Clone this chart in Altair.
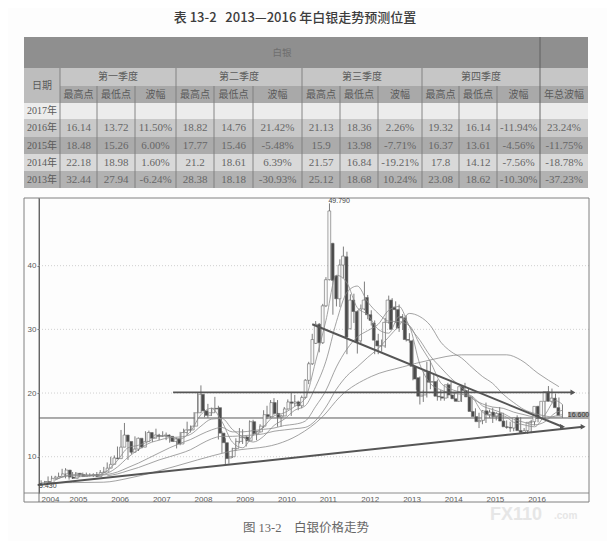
import altair as alt
import pandas as pd

# ---- table contents ----
title_text = "表 13-2\u00a0\u00a0\u00a02013—2016 年白银走势预测位置"
caption_text = "图 13-2\u00a0\u00a0\u00a0\u00a0白银价格走势"
col_units = [36, 37, 38, 41, 38, 39, 49, 38, 38, 44, 37, 38, 43, 48]
row_units = [31, 18, 17, 16, 18, 17, 17, 17]
row_fills = ["#8f8f8f", "#c6c6c6", "#a9a9a9", "#ececec", "#c9c9c9", "#ababab", "#d9d9d9", "#b2b2b2"]
seasons = ["第一季度", "第二季度", "第三季度", "第四季度"]
sub_heads = ["最高点", "最低点", "波幅"]
years_rows = ["2017年", "2016年", "2015年", "2014年", "2013年"]
t2016 = ["16.14", "13.72", "11.50%", "18.82", "14.76", "21.42%", "21.13", "18.36", "2.26%", "19.32", "16.14", "-11.94%", "23.24%"]
t2015 = ["18.48", "15.26", "6.00%", "17.77", "15.46", "-5.48%", "15.9", "13.98", "-7.71%", "16.37", "13.61", "-4.56%", "-11.75%"]
t2014 = ["22.18", "18.98", "1.60%", "21.2", "18.61", "6.39%", "21.57", "16.84", "-19.21%", "17.8", "14.12", "-7.56%", "-18.78%"]
t2013 = ["32.44", "27.94", "-6.24%", "28.38", "18.18", "-30.93%", "25.12", "18.68", "10.24%", "23.08", "18.62", "-10.30%", "-37.23%"]

# ---- monthly candles from May 2004 ----
opens = [6.0, 6.1, 5.9, 6.6, 6.8, 6.9, 7.3, 7.9,
         6.8, 6.6, 7.4, 7.2, 6.9, 7.1, 7.0, 7.2, 6.9, 7.5, 7.6, 8.2,
         8.8, 9.8, 9.7, 11.5, 13.4, 12.4, 10.7, 11.2, 12.9, 11.5, 12.4, 13.8,
         12.9, 13.4, 13.2, 13.3, 13.4, 13.2, 12.4, 12.8, 12.0, 13.8, 14.2, 14.2,
         14.8, 16.9, 19.8, 17.2, 16.5, 16.9, 17.6, 17.7, 13.7, 12.2, 9.8, 10.0,
         11.3, 12.4, 13.0, 13.1, 12.5, 15.5, 13.6, 13.9, 14.8, 16.6, 16.3, 18.5,
         16.8, 16.2, 16.4, 17.5, 18.6, 18.4, 18.6, 18.0, 19.3, 22.0, 24.6, 27.8,
         30.8, 27.9, 33.7, 37.8, 43.5, 38.4, 34.8, 40.1, 41.4, 30.1, 34.6, 32.8,
         28.2, 33.2, 35.0, 32.3, 31.0, 28.2, 27.4, 27.4, 31.1, 34.6, 33.5, 33.1,
         32.0, 31.8, 28.4, 28.2, 24.2, 22.4, 19.5, 19.7, 23.4, 21.7, 21.8, 19.5,
         19.4, 19.2, 21.3, 19.7, 19.1, 18.7, 21.0, 20.4, 19.4, 17.1, 16.3, 15.5,
         15.7, 17.2, 16.6, 17.0, 16.3, 16.8, 15.6, 14.7, 14.6, 14.5, 16.1, 14.1,
         13.8, 14.1, 15.4, 15.5, 17.9, 16.0, 18.7, 20.2, 18.7, 19.2, 17.7]
highs = [6.3, 6.2, 6.9, 7.0, 7.0, 7.5, 8.1, 8.2,
         7.0, 7.6, 7.6, 7.4, 7.5, 7.5, 7.4, 7.4, 7.6, 7.9, 8.4, 9.1,
         10.0, 10.2, 11.6, 14.2, 15.3, 12.9, 11.8, 13.2, 13.0, 12.7, 14.0, 14.1,
         13.6, 14.4, 13.6, 14.0, 13.8, 13.5, 13.2, 13.0, 13.9, 14.4, 15.5, 14.9,
         17.0, 20.0, 21.2, 17.5, 18.3, 17.7, 19.4, 18.0, 14.0, 12.9, 10.7, 11.4,
         12.9, 14.5, 14.3, 13.3, 15.7, 15.8, 14.0, 15.1, 17.3, 18.0, 18.9, 19.2,
         18.9, 16.6, 17.8, 19.0, 20.0, 19.7, 18.8, 19.6, 22.2, 24.9, 29.3, 31.3,
         31.0, 34.0, 38.2, 49.79, 43.6, 38.5, 41.0, 43.0, 42.2, 35.5, 35.6, 33.0,
         33.9, 37.5, 35.4, 33.0, 31.4, 29.3, 28.4, 31.8, 35.3, 34.9, 34.4, 33.9,
         32.4, 32.2, 29.4, 28.4, 24.2, 22.6, 20.5, 24.9, 25.1, 23.0, 22.1, 20.5,
         20.4, 21.6, 21.8, 20.1, 19.8, 21.2, 21.6, 20.7, 19.5, 17.6, 16.9, 17.3,
         18.5, 17.4, 17.7, 17.0, 17.8, 16.9, 15.7, 15.5, 15.3, 16.5, 16.2, 14.5,
         14.4, 15.8, 15.9, 18.0, 18.0, 18.9, 21.1, 20.7, 19.9, 19.3, 18.2]
lows = [5.43, 5.6, 5.8, 6.4, 6.6, 6.8, 7.2, 6.6,
        6.4, 6.5, 7.0, 6.8, 6.8, 6.9, 6.9, 6.8, 6.8, 7.3, 7.5, 8.1,
        8.7, 9.3, 9.6, 11.4, 11.5, 9.5, 10.4, 11.0, 10.9, 11.3, 12.2, 12.6,
        12.3, 13.2, 12.6, 13.1, 12.6, 12.2, 12.3, 11.3, 11.8, 13.6, 13.4, 13.8,
        14.7, 16.8, 16.9, 16.2, 16.1, 16.4, 16.9, 12.7, 10.6, 8.7, 8.9, 9.8,
        10.9, 12.1, 12.0, 11.6, 12.4, 13.3, 12.6, 13.8, 14.5, 15.9, 16.1, 16.6,
        14.7, 14.7, 16.4, 17.4, 16.4, 17.9, 17.3, 17.6, 19.1, 21.4, 24.4, 27.7,
        26.4, 27.7, 33.5, 37.7, 32.3, 33.6, 33.5, 38.0, 26.1, 30.0, 31.0, 26.2,
        27.8, 33.0, 31.6, 30.6, 26.1, 26.1, 26.5, 27.1, 30.9, 31.0, 31.0, 29.6,
        29.9, 28.1, 27.9, 22.0, 20.5, 18.2, 18.6, 19.3, 20.6, 20.9, 18.8, 18.8,
        18.8, 19.2, 19.5, 18.9, 18.6, 18.6, 20.2, 19.2, 17.0, 15.7, 14.5, 15.1,
        15.3, 16.1, 15.3, 15.7, 16.2, 15.5, 14.4, 13.9, 14.0, 14.3, 13.9, 13.6,
        13.6, 13.7, 14.9, 15.4, 15.8, 15.8, 18.7, 18.4, 18.5, 17.2, 16.1]
closes = [6.1, 5.9, 6.6, 6.8, 6.9, 7.3, 7.9, 6.8,
          6.6, 7.4, 7.2, 6.9, 7.1, 7.0, 7.2, 6.9, 7.5, 7.6, 8.2, 8.8,
          9.8, 9.7, 11.5, 13.4, 12.4, 10.7, 11.2, 12.9, 11.5, 12.4, 13.8, 12.9,
          13.4, 13.2, 13.3, 13.4, 13.2, 12.4, 12.8, 12.0, 13.8, 14.2, 14.2, 14.8,
          16.9, 19.8, 17.2, 16.5, 16.9, 17.6, 17.5, 13.7, 12.2, 9.7, 10.0, 11.3,
          12.4, 13.0, 13.1, 12.5, 15.5, 13.6, 13.9, 14.8, 16.6, 16.3, 18.5, 16.8,
          16.2, 16.4, 17.5, 18.6, 18.4, 18.6, 18.0, 19.3, 22.0, 24.6, 28.4, 30.8,
          27.9, 33.7, 37.8, 48.6, 37.7, 34.8, 40.1, 41.5, 28.8, 34.6, 32.8, 28.0,
          33.2, 34.6, 32.3, 31.4, 28.3, 27.4, 27.4, 31.1, 34.6, 30.0, 33.1, 30.2,
          31.8, 28.4, 28.3, 24.2, 22.2, 19.5, 19.7, 23.4, 21.7, 21.8, 19.5, 19.4,
          19.2, 21.3, 19.7, 19.1, 18.7, 21.0, 20.4, 19.4, 17.1, 16.3, 15.5, 15.7,
          17.2, 16.6, 17.0, 16.3, 16.8, 15.6, 14.7, 14.6, 14.5, 16.1, 14.1, 13.8,
          14.1, 15.4, 15.5, 17.9, 16.0, 18.7, 20.2, 18.7, 19.2, 17.7, 16.5]

# ---- moving averages, read at quarter ends ----
quarters = ["2004-09", "2004-12"] + [f"{y}-{m}" for y in range(2005, 2016) for m in ("03", "06", "09", "12")] + ["2016-03", "2016-06", "2016-09", "2016-11"]
ma5 = [6.3, 7.0,
       7.2, 7.1, 7.1, 7.8, 9.4, 11.4, 11.8, 12.4, 13.3, 13.1, 12.8, 14.0,
       16.6, 17.6, 15.5, 12.3, 11.4, 13.4, 14.7, 16.4, 16.9, 17.9, 19.2, 25.0,
       31.4, 38.5, 37.3, 33.4, 32.3, 30.0, 29.4, 32.0, 30.5, 24.5, 21.5, 20.5,
       20.0, 19.8, 19.3, 17.0, 16.4, 16.4, 15.4, 15.0, 14.7, 16.6, 18.8, 18.2]
ma10 = [6.4, 6.9,
        7.05, 7.1, 7.1, 7.4, 8.4, 9.9, 11.1, 12.1, 12.6, 13.0, 13.1, 13.5,
        14.8, 15.9, 16.0, 14.3, 13.1, 12.3, 13.2, 14.9, 15.9, 17.3, 18.0, 21.0,
        25.0, 31.2, 35.8, 36.8, 34.3, 32.5, 31.3, 31.2, 30.6, 27.6, 24.9, 21.6,
        20.6, 20.1, 19.5, 18.0, 17.4, 16.8, 15.9, 15.4, 15.0, 15.5, 16.9, 17.3]
ma20 = [6.8, 6.95, 7.05, 7.2, 7.6, 8.3, 9.0, 9.8, 10.6, 11.4, 12.1, 12.7,
        13.5, 14.2, 14.6, 13.9, 13.9, 14.1, 14.3, 14.5, 14.9, 15.1, 15.6, 17.9,
        20.4, 24.1, 26.9, 28.8, 29.8, 30.8, 33.0, 33.6, 30.5, 28.3, 25.8, 24.0,
        22.3, 20.9, 19.2, 18.3, 17.8, 17.6, 17.0, 16.6, 16.2, 16.0, 16.4, 16.6]
ma30 = [7.0, 7.3, 7.8, 8.3, 8.9, 9.5, 10.0, 10.5, 11.1,
        12.0, 12.8, 13.2, 13.2, 13.3, 13.4, 13.6, 14.0, 14.2, 14.4, 14.6, 15.7,
        17.8, 20.6, 22.7, 24.1, 25.6, 27.0, 28.8, 30.6, 32.5, 32.0, 30.6, 28.0,
        26.5, 25.5, 24.0, 22.6, 21.5, 19.8, 18.5, 17.4, 16.8, 16.4, 16.2, 16.3]
long_dates = ["2004-05", "2005-11", "2006-06", "2007-01", "2008-02", "2008-11", "2010-01", "2010-07", "2011-02", "2011-07",
              "2012-04", "2013-01", "2013-09", "2014-06", "2015-07", "2015-11", "2016-04", "2016-10"]
ma60 = [5.9, 6.0, 6.6, 7.5, 9.5, 10.8, 12.0, 13.4, 16.3, 19.4, 22.6, 24.1, 25.2, 26.0, 26.0, 25.2, 23.1, 21.0]

# ---- drawn lines and labels ----
support_dates = ["2004-04", "2017-05"]
support_vals = [5.55, 14.7]
fall_dates = ["2010-11", "2016-11"]
fall_vals = [30.8, 14.7]
level20_dates = ["2007-07", "2017-02"]
level20_vals = [20.1, 20.1]
level16_val = [16.08]
y_ticks = [10, 20, 30, 40]
grid_vals = [10, 20, 30, 40]
year_ticks = [(2004, 5)] + [(y, 1) for y in range(2005, 2017)]
high_label = ["49.790"]
low_label = ["5.430"]
last_label = ["16.600"]

FONT = "Liberation Serif, Noto Sans CJK SC"
SANS = "Noto Sans CJK SC"
W, H = 599, 533
INK = "#5a5a5a"

# ---- table frames ----
xe = [sum(col_units[:i]) for i in range(len(col_units) + 1)]
ye = [sum(row_units[:i]) for i in range(len(row_units) + 1)]
tx = alt.Scale(domain=[0, xe[-1]], range=[16, 580])
ty = alt.Scale(domain=[0, ye[-1]], range=[29, 180])
TX = lambda f: alt.X(f, type="quantitative", scale=tx, axis=None)
TY = lambda f: alt.Y(f, type="quantitative", scale=ty, axis=None)

rows_df = pd.DataFrame({"x0": 0, "x1": xe[-1], "y0": ye[:-1], "y1": ye[1:], "fill": row_fills})
rows_df = pd.concat([rows_df, pd.DataFrame({"x0": [0], "x1": [xe[1]], "y0": [ye[1]], "y1": [ye[3]], "fill": ["#bdbdbd"]})])
t_rows = alt.Chart(rows_df).mark_rect().encode(x=TX("x0"), x2="x1", y=TY("y0"), y2="y1", fill=alt.Fill("fill:N", scale=None))

vrows = []
for i in range(1, 14):
    start = ye[1] if (i - 1) % 3 == 0 else ye[2]
    if i == 13:
        start = 0
    vrows.append({"x": xe[i], "y0": start, "y1": ye[-1], "c": "#5c5c5c" if i == 13 else "#7a7a7a"})
t_vlines = alt.Chart(pd.DataFrame(vrows)).mark_rule(strokeWidth=0.9).encode(x=TX("x"), y=TY("y0"), y2="y1", stroke=alt.Stroke("c:N", scale=None))

cells = [{"t": "白银", "x": xe[13] / 2, "y": (ye[0] + ye[1]) / 2, "c": "#6e6e6e", "s": 9.5},
         {"t": "日期", "x": xe[1] / 2, "y": (ye[1] + ye[3]) / 2, "c": INK, "s": 10}]
for i, s in enumerate(seasons):
    cells.append({"t": s, "x": (xe[1 + 3 * i] + xe[4 + 3 * i]) / 2, "y": (ye[1] + ye[2]) / 2, "c": INK, "s": 10})
heads = sub_heads * 4 + ["年总波幅"]
for i, s in enumerate(heads):
    cells.append({"t": s, "x": (xe[i + 1] + xe[i + 2]) / 2, "y": (ye[2] + ye[3]) / 2, "c": INK, "s": 10})
for r, y in enumerate(years_rows):
    cells.append({"t": y, "x": xe[1] / 2, "y": (ye[3 + r] + ye[4 + r]) / 2, "c": INK, "s": 10})
for r, row in enumerate([t2016, t2015, t2014, t2013]):
    for i, v in enumerate(row):
        cells.append({"t": v, "x": (xe[i + 1] + xe[i + 2]) / 2, "y": (ye[4 + r] + ye[5 + r]) / 2, "c": "#666666", "s": 11})
t_text = alt.Chart(pd.DataFrame(cells)).mark_text(font=FONT).encode(
    x=TX("x"), y=TY("y"), text="t:N", color=alt.Color("c:N", scale=None), size=alt.Size("s:Q", scale=None))

# ---- price chart ----
months = pd.date_range("2004-05-01", periods=len(closes), freq="MS").strftime("%Y-%m-%dT00:00:00")
cdf = pd.DataFrame({"date": months, "open": opens, "high": highs, "low": lows, "close": closes})
cdf["top"] = cdf[["open", "close"]].max(axis=1)
cdf["bot"] = cdf[["open", "close"]].min(axis=1)

px = alt.Scale(domain=[alt.DateTime(year=2004, month=1, date=1), alt.DateTime(year=2018, month=1, date=1)], range=[19.3, 603.1])
py = alt.Scale(domain=[4.3, 50.63], range=[485, 190])
PX = lambda f="date": alt.X(f, type="temporal", scale=px, axis=None)
PY = lambda f: alt.Y(f, type="quantitative", scale=py, axis=None)
iso = lambda s: s + "-01T00:00:00"

grid = alt.Chart(pd.DataFrame({"v": grid_vals})).mark_rule(color="#c4c4c4", strokeWidth=0.8, strokeDash=[1, 2]).encode(
    y=PY("v"), x=alt.value(31), x2=alt.value(581))

wick = alt.Chart(cdf).mark_rule(color="#6e6e6e", strokeWidth=0.9).encode(
    x=alt.X("date", type="temporal", scale=px, title=None,
            axis=alt.Axis(values=[alt.DateTime(year=y, month=m, date=1) for y, m in year_ticks], format="%Y", offset=-48,
                          labelAlign="left", tickSize=0, domain=False, grid=False, labelFontSize=8, labelFont="Liberation Sans",
                          labelColor=INK, labelPadding=2, labelOverlap=False, labelFlush=False)),
    y=alt.Y("low", type="quantitative", scale=py, title=None,
            axis=alt.Axis(values=y_ticks, offset=-31, tickSize=2, tickColor="#777777", domainColor="#666666", grid=False,
                          labelFontSize=8, labelFont="Liberation Sans", labelColor=INK, labelPadding=1)),
    y2="high")
body = alt.Chart(cdf).mark_bar(size=2.8, stroke="#666666", strokeWidth=0.6).encode(
    x=PX(), y=PY("bot"), y2="top",
    fill=alt.condition("datum.close >= datum.open", alt.value("#f8f8f8"), alt.value("#4a4a4a")))

def ma_layer(dates, vals):
    d = pd.DataFrame({"date": [iso(x) for x in dates], "v": vals})
    return alt.Chart(d).mark_line(color="#8c8c8c", strokeWidth=0.8, interpolate="monotone").encode(x=PX(), y=PY("v"))

ma_layers = [ma_layer(quarters[-len(m):], m) for m in (ma5, ma10, ma20, ma30)] + [ma_layer(long_dates, ma60)]

def trend(dates, vals, width, shape="triangle-right"):
    d = pd.DataFrame({"date": [iso(x) for x in dates], "v": vals})
    line = alt.Chart(d).mark_line(color="#555555", strokeWidth=width).encode(x=PX(), y=PY("v"))
    tip = alt.Chart(d.tail(1)).mark_point(shape=shape, filled=True, color="#555555", size=32, opacity=1).encode(x=PX(), y=PY("v"))
    return [line, tip]

level16 = alt.Chart(pd.DataFrame({"v": level16_val})).mark_rule(color="#5a5a5a", strokeWidth=1).encode(
    y=PY("v"), x=alt.value(31), x2=alt.value(581))

hi_txt = alt.Chart(pd.DataFrame({"date": [iso("2011-04")], "v": [49.79], "t": high_label})).mark_text(
    align="left", fontSize=7, font="Liberation Sans", color="#444444", dx=-1, dy=-2).encode(x=PX(), y=PY("v"), text="t:N")
lo_txt = alt.Chart(pd.DataFrame({"date": [iso("2004-05")], "v": [5.43], "t": low_label})).mark_text(
    align="left", fontSize=7, font="Liberation Sans", color="#444444", dx=-2).encode(x=PX(), y=PY("v"), text="t:N")
box = alt.Chart(pd.DataFrame({"a": [17.05], "b": [15.95]})).mark_rect(fill="#a8a8a8").encode(
    y=PY("a"), y2="b", x=alt.value(560), x2=alt.value(581))
box_txt = alt.Chart(pd.DataFrame({"v": [16.5], "t": last_label})).mark_text(
    fontSize=7, font="Liberation Sans", color="#333333").encode(y=PY("v"), x=alt.value(570.5), text="t:N")

frame = alt.Chart(pd.DataFrame({"k": [1]})).mark_rect(fill=None, stroke="#808080", strokeWidth=1).encode(
    x=alt.value(16), x2=alt.value(581), y=alt.value(190), y2=alt.value(494))
base_rule = alt.Chart(pd.DataFrame({"k": [1]})).mark_rule(color="#808080", strokeWidth=0.9).encode(
    x=alt.value(16), x2=alt.value(581), y=alt.value(485))
axis_ext = alt.Chart(pd.DataFrame({"k": [1]})).mark_rule(color="#666666", strokeWidth=0.9).encode(
    x=alt.value(31), y=alt.value(190), y2=alt.value(494))

# ---- free text ----
def free(text, x, y, size, color, font=SANS, weight="normal", align="center"):
    return alt.Chart(pd.DataFrame({"t": [text]})).mark_text(
        fontSize=size, color=color, font=font, fontWeight=weight, align=align).encode(
        x=alt.value(x), y=alt.value(y), text="t:N")

title = free(title_text, 287, 10, 13, "#3c3c3c", weight=500)
caption = free(caption_text, 298, 520, 12.5, "#666666", font=FONT)
mark1 = free("FX110", 482, 507, 18, "#e6e6e6", font="Liberation Sans", weight="bold", align="left")
mark2 = free(".com", 546, 508, 10, "#e6e6e6", font="Liberation Sans", weight="bold", align="left")

layers = [mark1, mark2, title, t_rows, t_vlines, t_text, grid, frame, base_rule, axis_ext, level16, wick, body] + ma_layers \
    + trend(level20_dates, level20_vals, 1.8) + trend(fall_dates, fall_vals, 2) + trend(support_dates, support_vals, 2) \
    + [hi_txt, lo_txt, box, box_txt, caption]

chart = alt.layer(*layers).resolve_scale(x="independent", y="independent").resolve_axis(x="independent", y="independent").properties(
    width=W, height=H, background="#fdfdfd", padding=0, autosize=alt.AutoSizeParams(type="none")
).configure_view(stroke=None)

chart.save("out.html", embed_options={"renderer": "svg", "actions": False})
